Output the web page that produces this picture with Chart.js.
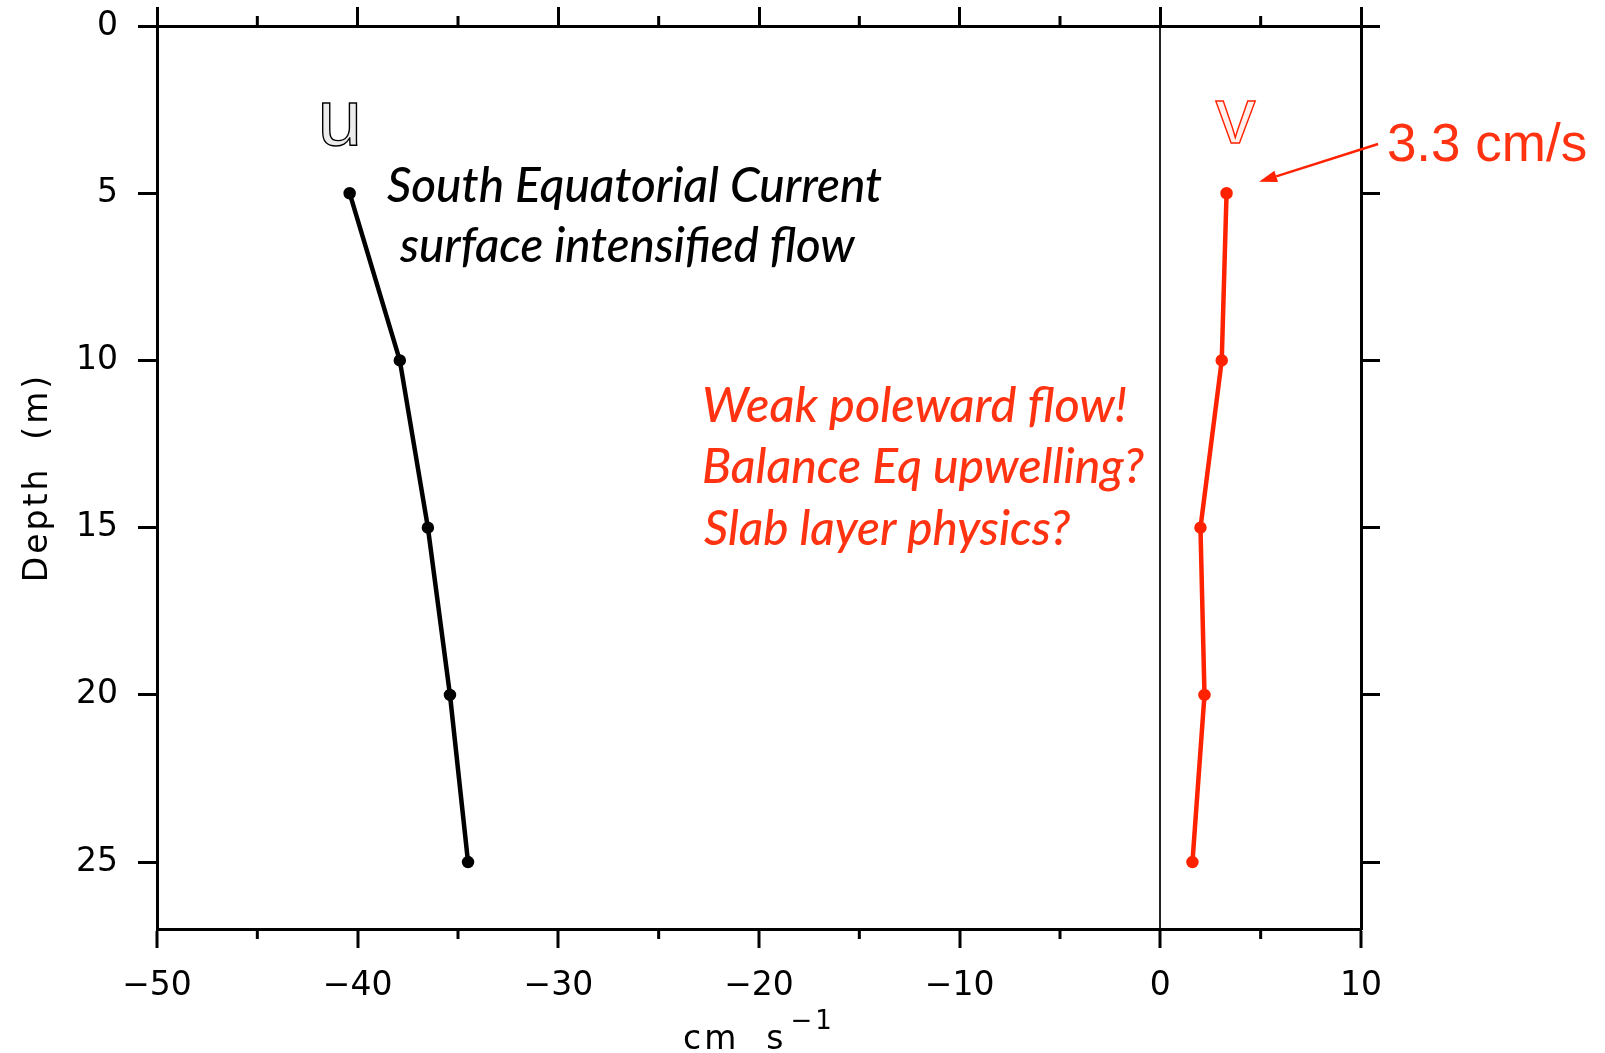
<!DOCTYPE html>
<html>
<head>
<meta charset="utf-8">
<script src="https://cdn.jsdelivr.net/npm/chart.js@4.4.1/dist/chart.umd.min.js"></script>
<style>
  html, body { margin: 0; padding: 0; background: #fff; }
  #depthChart { display: block; }
</style>
</head>
<body>
<canvas id="depthChart" width="1605" height="1053"></canvas>
<script>
// depth profile of velocity (cm/s)
const depths = [5, 10, 15, 20, 25];
const uValues = [-40.4, -37.9, -36.5, -35.4, -34.5];
const vValues = [3.3, 3.06, 2.0, 2.2, 1.6];

const xTicks = [-50, -40, -30, -20, -10, 0, 10];
const xMinorTicks = [-45, -35, -25, -15, -5, 5];
const yTicks = [0, 5, 10, 15, 20, 25];

const RED = '#ff2200';
const RED_TEXT = '#ff3311';

function fmtTick(v) {
    return v < 0 ? '\u2212' + Math.abs(v) : String(v);
}

// draw text squeezed/stretched so it spans from px0 to px1
function drawFitted(ctx, text, px0, px1, baseline, font, color) {
    ctx.save();
    ctx.font = font;
    const m = ctx.measureText(text);
    const w = m.actualBoundingBoxLeft + m.actualBoundingBoxRight;
    ctx.translate(px0, baseline);
    ctx.scale((px1 - px0) / w, 1);
    ctx.fillStyle = color;
    ctx.textAlign = 'left';
    ctx.textBaseline = 'alphabetic';
    ctx.fillText(text, m.actualBoundingBoxLeft, 0);
    ctx.restore();
}

const decorations = {
    id: 'decorations',
    afterDraw(chart) {
        const {ctx, chartArea: a, scales} = chart;
        const X = v => scales.x.getPixelForValue(v);
        const Y = v => scales.y.getPixelForValue(v);
        ctx.save();

        // minor ticks on top and bottom axes
        ctx.strokeStyle = '#000';
        ctx.lineWidth = 3;
        xMinorTicks.forEach(v => {
            const px = X(v);
            ctx.beginPath();
            ctx.moveTo(px, a.bottom);
            ctx.lineTo(px, a.bottom + 10);
            ctx.moveTo(px, a.top);
            ctx.lineTo(px, a.top - 10);
            ctx.stroke();
        });

        // axis titles
        ctx.fillStyle = '#000';
        ctx.font = '33px "DejaVu Sans"';
        ctx.letterSpacing = '3px';
        ctx.textAlign = 'center';
        ctx.textBaseline = 'alphabetic';
        ctx.save();
        ctx.translate(47, (a.top + a.bottom) / 2);
        ctx.rotate(-Math.PI / 2);
        ctx.fillText('Depth  (m)', 0, 0);
        ctx.restore();

        const main = 'cm  s';
        const sup = '\u22121';
        ctx.font = '33px "DejaVu Sans"';
        const wMain = ctx.measureText(main).width;
        ctx.font = '26px "DejaVu Sans"';
        const wSup = ctx.measureText(sup).width;
        const start = (a.left + a.right) / 2 - (wMain + wSup + 4) / 2;
        ctx.textAlign = 'left';
        ctx.font = '33px "DejaVu Sans"';
        ctx.fillText(main, start, 1049);
        ctx.font = '26px "DejaVu Sans"';
        ctx.fillText(sup, start + wMain + 4, 1029);
        ctx.letterSpacing = '0px';

        // series labels u and v (outlined letters)
        ctx.font = '80px "Liberation Sans"';
        ctx.lineWidth = 1.4;
        ctx.fillStyle = '#ececec';
        ctx.strokeStyle = '#000';
        ctx.fillText('u', X(-42.0), Y(3.56));
        ctx.strokeText('u', X(-42.0), Y(3.56));
        ctx.fillStyle = '#fff0ec';
        ctx.strokeStyle = RED;
        ctx.fillText('v', X(2.75), Y(3.5));
        ctx.strokeText('v', X(2.75), Y(3.5));

        // notes
        const f = 'italic 500 48px Lato';
        drawFitted(ctx, 'South Equatorial Current', X(-38.54), X(-13.87), Y(5.25), f, '#000');
        drawFitted(ctx, 'surface intensified flow', X(-37.94), X(-15.17), Y(7.06), f, '#000');
        drawFitted(ctx, 'Weak poleward flow!', X(-22.74), X(-1.71), Y(11.83), f, RED_TEXT);
        drawFitted(ctx, 'Balance Eq upwelling?', X(-22.74), X(-0.82), Y(13.67), f, RED_TEXT);
        drawFitted(ctx, 'Slab layer physics?', X(-22.74), X(-4.5), Y(15.51), f, RED_TEXT);

        // 3.3 cm/s callout with arrow
        ctx.fillStyle = RED_TEXT;
        ctx.font = '53px "Liberation Sans"';
        ctx.textAlign = 'left';
        ctx.fillText('3.3 cm/s', X(11.29), Y(4.04));

        const x0 = X(10.85), y0 = Y(3.53), x1 = X(4.92), y1 = Y(4.66);
        const ang = Math.atan2(y1 - y0, x1 - x0);
        const head = 18, half = 6;
        const bx = x1 - head * Math.cos(ang), by = y1 - head * Math.sin(ang);
        ctx.strokeStyle = RED;
        ctx.lineWidth = 2.5;
        ctx.beginPath();
        ctx.moveTo(x0, y0);
        ctx.lineTo(bx, by);
        ctx.stroke();
        ctx.fillStyle = RED;
        ctx.beginPath();
        ctx.moveTo(x1, y1);
        ctx.lineTo(bx + half * Math.sin(ang), by - half * Math.cos(ang));
        ctx.lineTo(bx - half * Math.sin(ang), by + half * Math.cos(ang));
        ctx.closePath();
        ctx.fill();

        ctx.restore();
    }
};

function setTicks(list) {
    return scale => { scale.ticks = list.map(v => ({value: v})); };
}

// fixed axis box sizes so the plot frame lands where the original has it
function fixWidth(w) {
    return s => { s.width = w; s.paddingTop = 0; s.paddingBottom = 0; };
}
function fixHeight(h) {
    return s => { s.height = h; s.paddingLeft = 0; s.paddingRight = 0; };
}

const tickFont = {family: 'DejaVu Sans', size: 33};

const ctx = document.getElementById('depthChart').getContext('2d');
const myChart = new Chart(ctx, {
    type: 'scatter',
    data: {
        datasets: [
            {
                label: 'u',
                data: depths.map((d, i) => ({x: uValues[i], y: d})),
                showLine: true,
                borderColor: '#000',
                borderWidth: 4.5,
                pointRadius: 5,
                pointBorderWidth: 2.5,
                pointBorderColor: '#000',
                pointBackgroundColor: '#000'
            },
            {
                label: 'v',
                data: depths.map((d, i) => ({x: vValues[i], y: d})),
                showLine: true,
                borderColor: RED,
                borderWidth: 4.5,
                pointRadius: 5,
                pointBorderWidth: 2.5,
                pointBorderColor: RED,
                pointBackgroundColor: RED
            }
        ]
    },
    options: {
        responsive: false,
        animation: false,
        layout: {padding: 0},
        plugins: {
            legend: {display: false},
            tooltip: {enabled: false}
        },
        scales: {
            x: {
                type: 'linear',
                position: 'bottom',
                min: -50,
                max: 10,
                afterBuildTicks: setTicks(xTicks),
                afterFit: fixHeight(124),
                ticks: {
                    font: tickFont,
                    color: '#000',
                    padding: 19,
                    maxRotation: 0,
                    callback: v => fmtTick(v)
                },
                grid: {
                    drawOnChartArea: true,
                    color: c => (c.tick && c.tick.value === 0) ? '#222' : 'rgba(0,0,0,0)',
                    lineWidth: 2,
                    tickColor: '#000',
                    tickWidth: 3,
                    tickLength: 19
                },
                border: {display: true, color: '#000', width: 3}
            },
            x2: {
                type: 'linear',
                position: 'top',
                min: -50,
                max: 10,
                afterBuildTicks: setTicks(xTicks),
                afterFit: fixHeight(26),
                ticks: {display: false},
                grid: {
                    drawOnChartArea: false,
                    tickColor: '#000',
                    tickWidth: 3,
                    tickLength: 19
                },
                border: {display: true, color: '#000', width: 3}
            },
            y: {
                type: 'linear',
                position: 'left',
                reverse: true,
                min: 0,
                max: 27,
                afterBuildTicks: setTicks(yTicks),
                afterFit: fixWidth(157),
                ticks: {
                    font: tickFont,
                    color: '#000',
                    padding: 20,
                    callback: v => fmtTick(v)
                },
                grid: {
                    drawOnChartArea: false,
                    tickColor: '#000',
                    tickWidth: 3,
                    tickLength: 19
                },
                border: {display: true, color: '#000', width: 3}
            },
            y2: {
                type: 'linear',
                position: 'right',
                reverse: true,
                min: 0,
                max: 27,
                afterBuildTicks: setTicks(yTicks),
                afterFit: fixWidth(244),
                ticks: {display: false},
                grid: {
                    drawOnChartArea: false,
                    tickColor: '#000',
                    tickWidth: 3,
                    tickLength: 19
                },
                border: {display: true, color: '#000', width: 3}
            }
        }
    },
    plugins: [decorations]
});
</script>
</body>
</html>
